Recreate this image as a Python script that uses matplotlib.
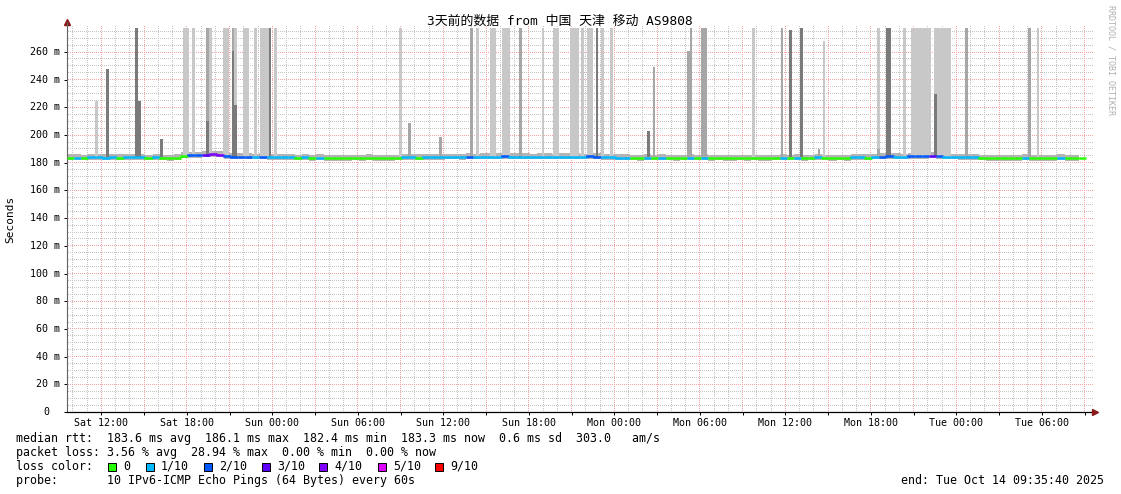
import numpy as np
import matplotlib
matplotlib.use('Agg')
import matplotlib.pyplot as plt
import matplotlib.dates as mdates
import matplotlib.transforms as mtransforms
from matplotlib.collections import LineCollection
from matplotlib.lines import Line2D
from matplotlib.patches import Rectangle
from matplotlib.colors import to_rgba
from datetime import datetime, timedelta

plt.rcParams['font.family'] = ['DejaVu Sans Mono', 'Noto Sans CJK SC']

title = '3天前的数据 from 中国 天津 移动 AS9808'
start = datetime(2025, 10, 11, 9, 35, 40)
end = datetime(2025, 10, 14, 9, 35, 40)
step_min = 30

# median rtt (ms), one value per 30 min step
median_ms = [
    183.6, 183.8, 183.5, 183.9, 184.0, 183.8, 184.0, 183.6, 183.9, 184.0, 183.9, 183.5,
    183.9, 183.5, 183.4, 183.7, 185.2, 185.5, 185.6, 185.8, 186.0, 185.8, 184.6, 184.4,
    184.5, 184.3, 184.2, 184.4, 184.1, 184.0, 184.0, 183.9, 183.5, 183.9, 183.4, 183.7,
    183.4, 183.3, 183.4, 183.3, 183.5, 183.4, 183.6, 183.4, 183.3, 183.4, 183.5, 183.9,
    184.0, 183.6, 184.1, 184.0, 184.1, 184.2, 184.2, 184.1, 184.5, 184.2, 184.3, 184.3,
    184.4, 184.6, 184.3, 184.4, 184.3, 184.2, 184.3, 184.3, 184.2, 184.3, 184.4, 184.3,
    184.2, 184.7, 184.5, 184.0, 183.9, 183.8, 183.6, 183.5, 183.4, 183.7, 183.5, 183.8,
    183.5, 183.4, 183.5, 183.8, 183.5, 183.8, 183.4, 183.5, 183.4, 183.3, 183.5, 183.4,
    183.5, 183.4, 183.3, 183.5, 183.8, 183.5, 183.8, 183.4, 183.5, 183.9, 183.5, 183.4,
    183.5, 183.4, 183.9, 184.0, 183.6, 184.2, 184.5, 184.6, 184.3, 184.2, 184.6, 184.7,
    184.6, 185.2, 184.6, 184.3, 184.2, 184.1, 183.9, 184.0, 183.5, 183.4, 183.3, 183.4,
    183.3, 183.4, 183.8, 183.4, 183.3, 183.4, 183.3, 183.8, 183.4, 183.4, 183.5, np.nan,
]
# lost pings out of 10 per step
loss = [
    0, 1, 0, 1, 1, 1, 1, 0, 1, 1, 1, 0,
    1, 0, 0, 0, 0, 2, 2, 3, 4, 4, 2, 2,
    2, 2, 1, 2, 1, 1, 1, 1, 0, 1, 0, 1,
    0, 0, 0, 0, 0, 0, 0, 0, 0, 0, 0, 1,
    1, 0, 1, 1, 1, 1, 1, 1, 2, 1, 1, 1,
    1, 2, 1, 1, 1, 1, 1, 1, 1, 1, 1, 1,
    1, 2, 2, 1, 1, 1, 1, 0, 0, 1, 0, 1,
    0, 0, 0, 1, 0, 1, 0, 0, 0, 0, 0, 0,
    0, 0, 0, 0, 1, 0, 1, 0, 0, 1, 0, 0,
    0, 0, 1, 1, 0, 1, 2, 2, 1, 1, 2, 2,
    2, 3, 2, 1, 1, 1, 1, 1, 0, 0, 0, 0,
    0, 0, 1, 0, 0, 0, 0, 1, 0, 0, 0, 0,
]
smoke_below, smoke_above = 1.8, 2.4

# smoke spikes: hours after start, top in ms, shade 1 light .. 3 dark
spike_from = [1.96, 2.74, 4.77, 4.98, 6.53, 8.14, 8.77, 9.75, 9.75, 9.96, 10.95,
              11.58, 11.58, 11.72, 11.72, 12.35, 13.12, 13.54, 14.18, 14.53,
              23.28, 23.93, 26.11, 28.28, 28.70, 29.68, 30.53, 31.72, 33.33, 34.11,
              35.30, 36.07, 36.49, 37.12, 37.47, 38.11, 40.70, 41.12, 43.51, 43.72,
              44.49, 48.07, 50.11, 50.67, 51.44, 52.70, 53.05, 56.84, 56.84, 57.47,
              58.67, 59.23, 60.84, 60.84, 63.02, 67.44, 68.07]
spike_to = [2.18, 2.95, 4.98, 5.19, 6.74, 8.56, 8.98, 9.96, 9.96, 10.18, 11.37,
            11.72, 11.72, 11.93, 11.93, 12.77, 13.33, 14.18, 14.32, 14.74,
            23.49, 24.14, 26.32, 28.49, 28.91, 30.11, 31.09, 31.93, 33.47, 34.53,
            35.93, 36.28, 36.91, 37.26, 37.68, 38.32, 40.91, 41.26, 43.72, 43.86,
            44.91, 48.28, 50.25, 50.88, 51.65, 52.84, 53.19, 57.05, 57.05, 57.82,
            58.88, 60.63, 62.04, 61.05, 63.23, 67.65, 68.21]
spike_top = [224.5, 247.6, 277.3, 224.5, 197.0, 277.3, 277.3, 277.3, 210.0, 277.3, 277.3,
             277.3, 261.0, 277.3, 222.0, 277.3, 277.3, 277.3, 277.3, 277.3,
             277.3, 208.7, 198.6, 277.3, 277.3, 277.3, 277.3, 277.3, 277.3, 277.3,
             277.3, 277.3, 277.3, 277.3, 277.3, 277.3, 202.9, 249.0, 260.6, 277.3,
             277.3, 277.3, 277.3, 275.8, 277.3, 190.0, 268.0, 277.3, 190.0, 277.3,
             277.3, 277.3, 277.3, 230.0, 277.3, 277.3, 277.3]
spike_shade = [1, 3, 3, 3, 3, 1, 1, 2, 3, 1, 1,
               2, 3, 1, 3, 1, 1, 1, 3, 1,
               1, 2, 2, 2, 1, 1, 1, 2, 1, 1,
               1, 1, 1, 3, 1, 1, 3, 2, 2, 2,
               2, 1, 2, 3, 3, 2, 1, 1, 2, 3,
               1, 1, 1, 3, 2, 2, 1]
spike_base = 184.0

loss_labels = ['0', '1/10', '2/10', '3/10', '4/10', '5/10', '9/10']
loss_colors = ['#26ff00', '#00b8ff', '#0059ff', '#5e00ff', '#7e00ff', '#dd00ff', '#ff0000']
loss_color_of = {0: '#26ff00', 1: '#00b8ff', 2: '#0059ff', 3: '#5e00ff',
                 4: '#7e00ff', 5: '#dd00ff', 9: '#ff0000'}
shade_color = {1: '#c8c8c8', 2: '#a6a6a6', 3: '#7a7a7a'}

stats_lines = [
    'median rtt:  183.6 ms avg  186.1 ms max  182.4 ms min  183.3 ms now  0.6 ms sd  303.0   am/s',
    'packet loss: 3.56 % avg  28.94 % max  0.00 % min  0.00 % now',
    'loss color:',
    'probe:       10 IPv6-ICMP Echo Pings (64 Bytes) every 60s',
]
end_text = 'end: Tue Oct 14 09:35:40 2025'

W, H = 1121, 494
fig = plt.figure(figsize=(W / 100, H / 100), dpi=100)
fig.patch.set_facecolor('white')
ax = fig.add_axes([67 / W, (H - 412) / H, 1026 / W, (412 - 25) / H])
ax.patch.set_visible(False)
xmin, xmax = mdates.date2num(start), mdates.date2num(end)
ax.set_xlim(xmin, xmax)
ax.set_ylim(0, 387 / 1.3846)

n = len(median_ms)
edges = mdates.date2num([start + timedelta(minutes=step_min * i) for i in range(n + 1)])
med = np.array(median_ms)

# smoke band around the median
lo = np.append(med - smoke_below, np.nan)
hi = np.append(med + smoke_above, np.nan)
ax.fill_between(edges, lo, hi, step='post', color='#b4b4b4', lw=0, zorder=2)

# smoke spikes
t0 = mdates.date2num(start)
for level in (1, 2, 3):
    idx = [i for i, s in enumerate(spike_shade) if s == level]
    lefts = [t0 + spike_from[i] / 24 for i in idx]
    widths = [(spike_to[i] - spike_from[i]) / 24 for i in idx]
    heights = [spike_top[i] - spike_base for i in idx]
    ax.bar(lefts, heights, width=widths, bottom=spike_base, align='edge',
           color=shade_color[level], linewidth=0, zorder=2)

# median line coloured by loss
segs, cols = [], []
for i in range(n):
    if np.isnan(med[i]):
        continue
    prev = med[i - 1] if i > 0 and not np.isnan(med[i - 1]) else med[i]
    segs.append([(edges[i], prev), (edges[i], med[i]), (edges[i + 1], med[i])])
    cols.append(loss_color_of[loss[i]])
ax.add_collection(LineCollection(segs, colors=cols, linewidths=1.8,
                                 capstyle='butt', joinstyle='miter', zorder=3))

# dotted rrdtool style grid, drawn as a pixel image under the axes
hours = mdates.HourLocator(byhour=range(24)).tick_values(start, end)
hours = [h for h in hours if xmin < h < xmax]
bbox = ax.get_window_extent()
x0, x1 = int(bbox.x0), int(bbox.x1)
r_top, r_bot = H - int(bbox.y1) + 1, H - int(bbox.y0)
grid_img = np.zeros((H, W, 4))
minor_c = to_rgba('#c4c4c4')
major_c = to_rgba('#f7a3a3')
for major in (False, True):
    c = major_c if major else minor_c
    for h in hours:
        if (mdates.num2date(h).hour % 3 == 0) != major:
            continue
        col = int(ax.transData.transform((h, 0))[0])
        grid_img[r_top:r_bot:2, col] = c
    for v in range(5, 276, 5):
        if (v % 20 == 0) != major:
            continue
        row = H - 1 - int(ax.transData.transform((xmin, v))[1])
        grid_img[row, x0 + 1:x1:2] = c
fig.figimage(grid_img, 0, 0, origin='upper', zorder=-1)

# axis ticks and labels
ax.set_xticks([h for h in hours if mdates.num2date(h).hour % 3 == 0])
ax.xaxis.set_major_formatter(plt.FuncFormatter(
    lambda v, p: mdates.num2date(v).strftime('%a %H:%M') if mdates.num2date(v).hour % 6 == 0 else ''))
ax.set_yticks(range(0, 261, 20))
ax.tick_params(axis='x', which='major', length=2.2, width=0.7, pad=2, labelsize=7.2)
ax.tick_params(axis='y', which='major', length=2.2, width=0.7, labelleft=False)

for s in ('top', 'right'):
    ax.spines[s].set_visible(False)
ax.spines['left'].set_color('#606060')
ax.spines['left'].set_linewidth(0.8)
ax.spines['bottom'].set_color('black')
ax.spines['bottom'].set_linewidth(0.9)

off = mtransforms.ScaledTranslation(-7 / 100, 0, fig.dpi_scale_trans)
for v in range(0, 261, 20):
    lab = f'{v} m' if v else '0'
    dx = 0 if v else -11 / 100
    tr = ax.get_yaxis_transform() + off + mtransforms.ScaledTranslation(dx, 0, fig.dpi_scale_trans)
    ax.text(0, v, lab, transform=tr, ha='right', va='center', fontsize=7.2)

# axis arrows
fig.add_artist(Line2D([67 / W], [1 - 22 / H], marker='^', markersize=4,
                      color='#8b1a1a', transform=fig.transFigure))
fig.add_artist(Line2D([67 / W, 67 / W], [1 - 25 / H, 1 - 22 / H], lw=0.8,
                      color='#606060', transform=fig.transFigure))
fig.add_artist(Line2D([1095 / W], [1 - 412 / H], marker='>', markersize=4,
                      color='#8b1a1a', transform=fig.transFigure))

fig.text(10 / W, 1 - 219 / H, 'Seconds', rotation=90, ha='center', va='center', fontsize=8)
fig.text(560 / W, 1 - 21.5 / H, title, ha='center', va='center', fontsize=9.3,
         family=['DejaVu Sans Mono', 'Noto Sans CJK SC'])
fig.text(1111 / W, 1 - 5 / H, 'RRDTOOL / TOBI OETIKER', rotation=270, ha='center', va='top',
         fontsize=6, color='#b0b0b0')

# legend / stats
rows_y = [438, 452, 466, 480]
for y, line in zip(rows_y, stats_lines):
    fig.text(16 / W, 1 - y / H, line, ha='left', va='center', fontsize=8.4)
fig.text(1104 / W, 1 - 480 / H, end_text, ha='right', va='center', fontsize=8.4)

box_x = [108, 146, 204, 262, 319, 378, 435]
for bx, lab, c in zip(box_x, loss_labels, loss_colors):
    fig.add_artist(Rectangle((bx / W, 1 - 470.7 / H), 8 / W, 8 / H, facecolor=c,
                             edgecolor='black', lw=0.7, transform=fig.transFigure))
    fig.text((bx + 15) / W, 1 - 466 / H, lab, ha='left', va='center', fontsize=8.4)

fig.savefig('out.png', dpi=100)
